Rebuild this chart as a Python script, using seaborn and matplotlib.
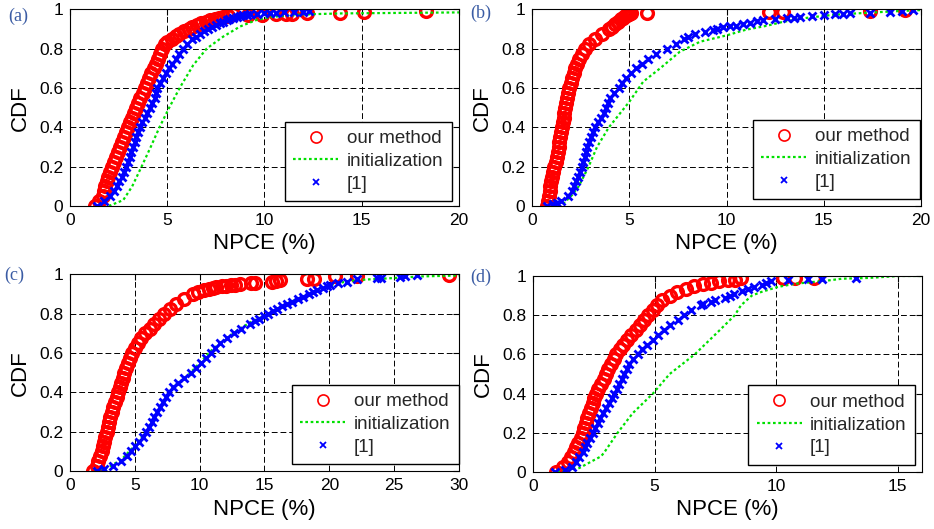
import matplotlib
matplotlib.use("Agg")
import matplotlib.pyplot as plt
import seaborn as sns

# shared CDF levels for the dense part of each marker series
cdf_grid = [0.0, 0.025, 0.05, 0.075, 0.1, 0.125, 0.15, 0.175, 0.2, 0.225,
            0.25, 0.275, 0.3, 0.325, 0.35, 0.375, 0.4, 0.425, 0.45, 0.475,
            0.5, 0.525, 0.55, 0.575, 0.6, 0.625, 0.65, 0.675, 0.7, 0.725,
            0.75, 0.775, 0.8, 0.825, 0.85, 0.875, 0.9]

series_labels = ['our method', 'initialization', '[1]']
y_ticks = [0, 0.2, 0.4, 0.6, 0.8, 1]
y_tick_labels = ['0', '0.2', '0.4', '0.6', '0.8', '1']

# ---- panel (a)
a_ours_x = [1.3, 1.5, 1.7, 1.75, 1.8, 1.9, 1.98, 2.07, 2.15, 2.25, 2.35, 2.45, 2.55,
            2.66, 2.77, 2.88, 3.0, 3.1, 3.2, 3.3, 3.4, 3.5, 3.62, 3.73, 3.85, 3.96,
            4.07, 4.18, 4.3, 4.42, 4.52, 4.62, 4.72, 4.9, 5.25, 5.6, 6.1]
a_ours_tail_x = [5.0, 5.45, 5.85, 6.3, 6.51, 6.75, 7.0, 7.2, 7.45, 7.65, 7.88, 8.1, 8.4,
                 9.17, 9.85, 10.6, 11.1, 11.4, 12.2, 13.9, 15.1, 18.3]
a_ours_tail_y = [0.835, 0.865, 0.888, 0.91, 0.921, 0.93, 0.938, 0.947, 0.953, 0.958, 0.963, 0.968, 0.975,
                 0.97, 0.972, 0.975, 0.976, 0.977, 0.98, 0.982, 0.986, 0.99]
a_ref_x = [1.4, 1.75, 2.05, 2.25, 2.4, 2.53, 2.66, 2.78, 2.9, 2.99, 3.07, 3.16, 3.25,
           3.34, 3.42, 3.51, 3.6, 3.72, 3.85, 3.97, 4.1, 4.22, 4.35, 4.42, 4.5, 4.62,
           4.76, 4.92, 5.08, 5.25, 5.43, 5.62, 5.8, 6.0, 6.3, 6.7, 7.1]
a_ref_tail_x = [6.5, 6.9, 7.3, 7.5, 7.7, 7.88, 8.05, 8.2, 8.4, 8.57, 8.75, 8.9, 9.1,
                9.25, 9.6, 10.0, 10.3, 10.6, 11.0, 11.5, 12.0, 12.3]
a_ref_tail_y = [0.862, 0.89, 0.91, 0.92, 0.93, 0.938, 0.945, 0.95, 0.957, 0.963, 0.967, 0.97, 0.973,
                0.975, 0.978, 0.98, 0.982, 0.984, 0.985, 0.986, 0.988, 0.99]
a_init_x = [2.0, 2.74, 3.2, 3.68, 4.15, 4.6, 5.1, 5.66, 6.34, 7.03, 7.88, 8.74, 9.6, 10.45, 12.0, 14.0, 20.0]
a_init_y = [0.0, 0.03, 0.1, 0.2, 0.3, 0.4, 0.5, 0.604, 0.717, 0.801, 0.862, 0.913, 0.947, 0.963, 0.975, 0.98, 0.985]

# ---- panel (b)
b_ours_x = [0.77, 0.82, 0.86, 0.9, 0.94, 1.0, 1.05, 1.1, 1.15, 1.21, 1.26, 1.32, 1.37,
            1.41, 1.46, 1.5, 1.54, 1.58, 1.63, 1.67, 1.71, 1.76, 1.82, 1.87, 1.92, 1.99,
            2.06, 2.14, 2.23, 2.33, 2.43, 2.56, 2.7, 2.95, 3.25, 3.6, 3.95]
b_ours_tail_x = [4.1, 4.25, 4.4, 4.55, 4.7, 4.8, 4.9, 5.0, 5.1, 5.9, 12.2, 12.9, 17.4, 19.2]
b_ours_tail_y = [0.913, 0.925, 0.938, 0.95, 0.958, 0.965, 0.97, 0.975, 0.98, 0.982, 0.985, 0.988, 0.992, 0.996]
b_ref_x = [0.77, 1.5, 1.85, 2.05, 2.14, 2.27, 2.38, 2.48, 2.57, 2.63, 2.7, 2.76, 2.83,
           2.93, 3.04, 3.15, 3.26, 3.4, 3.55, 3.68, 3.78, 3.9, 4.03, 4.2, 4.45, 4.65,
           4.85, 5.1, 5.35, 5.65, 5.95, 6.4, 6.95, 7.4, 7.8, 8.4, 9.5]
b_ref_tail_x = [8.0, 8.9, 9.32, 9.84, 10.2, 10.5, 10.85, 11.2, 11.55, 11.9, 12.5, 13.1, 13.45,
                13.8, 14.4, 15.0, 15.6, 16.0, 16.35, 17.4, 18.4, 19.0, 19.6, 1.1, 1.3]
b_ref_tail_y = [0.86, 0.886, 0.895, 0.912, 0.915, 0.917, 0.924, 0.93, 0.94, 0.947, 0.951, 0.955, 0.959,
                0.963, 0.967, 0.97, 0.975, 0.978, 0.98, 0.983, 0.986, 0.99, 0.995, 0.01, 0.015]
b_init_x = [1.6, 2.06, 2.4, 2.91, 3.34, 3.95, 5.0, 5.72, 6.58, 7.6, 8.64, 10.0, 11.0,
            12.07, 12.9, 14.1, 15.5, 17.2, 18.9, 20.0]
b_init_y = [0.01, 0.056, 0.1, 0.2, 0.3, 0.4, 0.53, 0.633, 0.7, 0.785, 0.836, 0.868, 0.897,
            0.917, 0.937, 0.957, 0.973, 0.983, 0.992, 0.997]

# ---- panel (c)
c_ours_x = [1.75, 2.05, 2.18, 2.32, 2.44, 2.55, 2.65, 2.74, 2.83, 2.92, 3.02, 3.11, 3.21,
            3.34, 3.47, 3.6, 3.72, 3.85, 3.95, 4.1, 4.2, 4.32, 4.45, 4.6, 4.8, 5.0,
            5.25, 5.5, 5.8, 6.15, 6.5, 6.85, 7.25, 7.7, 8.2, 8.8, 9.5]
c_ours_tail_x = [9.9, 10.3, 10.7, 11.0, 11.3, 11.7, 12.0, 12.4, 12.7, 13.1, 14.0, 14.3, 15.6,
                 15.9, 16.2, 18.3, 18.8, 20.45, 22.1, 29.2]
c_ours_tail_y = [0.91, 0.92, 0.927, 0.932, 0.937, 0.941, 0.944, 0.946, 0.947, 0.952, 0.955, 0.958, 0.963,
                 0.966, 0.97, 0.975, 0.978, 0.99, 0.99, 0.995]
c_ref_x = [2.05, 3.3, 3.9, 4.4, 4.7, 5.0, 5.3, 5.6, 5.9, 6.1, 6.3, 6.5, 6.75,
           6.95, 7.15, 7.4, 7.65, 7.95, 8.3, 8.8, 9.3, 9.7, 10.1, 10.5, 10.9, 11.2,
           11.6, 12.1, 12.65, 13.2, 13.9, 14.6, 15.3, 16.0, 16.7, 17.6, 18.4]
c_ref_tail_x = [14.25, 14.95, 15.65, 16.35, 17.15, 18.0, 18.75, 19.04, 19.5, 19.8, 20.06, 20.7,
                21.35, 22.1, 23.66, 24.0, 25.46, 25.8, 26.75, 2.6]
c_ref_tail_y = [0.762, 0.787, 0.812, 0.838, 0.862, 0.888, 0.91, 0.921, 0.93, 0.94, 0.947, 0.955,
                0.963, 0.975, 0.98, 0.982, 0.988, 0.99, 0.995, 0.01]
c_init_x = [1.9, 3.0, 4.0, 5.0, 6.0, 7.0, 8.0, 9.0, 10.0, 11.0, 12.0, 13.0, 14.0, 15.0,
            16.0, 17.0, 18.0, 19.0, 20.0, 21.0, 22.0, 23.0, 25.0, 27.0, 30.0]
c_init_y = [0.0, 0.02, 0.06, 0.13, 0.21, 0.33, 0.43, 0.48, 0.55, 0.62, 0.67, 0.72, 0.76, 0.79,
            0.82, 0.86, 0.89, 0.92, 0.945, 0.96, 0.97, 0.975, 0.982, 0.99, 0.995]

# ---- panel (d)
d_ours_x = [0.94, 1.22, 1.42, 1.56, 1.69, 1.78, 1.87, 1.96, 2.04, 2.11, 2.18, 2.24, 2.31,
            2.38, 2.45, 2.52, 2.59, 2.69, 2.79, 2.9, 3.0, 3.1, 3.2, 3.31, 3.42, 3.56,
            3.72, 3.88, 4.04, 4.22, 4.4, 4.56, 4.72, 4.92, 5.08, 5.3, 5.65]
d_ours_tail_x = [5.94, 6.3, 6.63, 7.0, 7.31, 7.65, 8.0, 8.3, 8.55, 10.3, 10.78, 11.57]
d_ours_tail_y = [0.918, 0.935, 0.949, 0.958, 0.966, 0.972, 0.977, 0.982, 0.988, 0.988, 0.989, 0.99]
d_ref_x = [0.9, 1.6, 1.76, 1.9, 2.04, 2.14, 2.24, 2.35, 2.45, 2.56, 2.66, 2.77, 2.87,
           2.99, 3.11, 3.23, 3.35, 3.45, 3.55, 3.65, 3.76, 3.85, 3.95, 4.1, 4.3, 4.5,
           4.7, 4.95, 5.15, 5.4, 5.65, 5.95, 6.2, 6.5, 6.9, 7.5, 8.1]
d_ref_tail_x = [7.0, 7.31, 7.9, 8.28, 8.6, 8.85, 9.1, 9.4, 9.6, 9.79, 10.5, 11.3, 11.9, 13.3, 1.3]
d_ref_tail_y = [0.855, 0.867, 0.89, 0.91, 0.925, 0.935, 0.944, 0.955, 0.965, 0.975, 0.978, 0.984, 0.986, 0.99, 0.01]
d_init_x = [1.0, 1.9, 2.8, 2.93, 3.48, 4.1, 4.93, 5.62, 6.65, 7.6, 8.3, 8.55, 9.0,
            9.38, 10.07, 10.76, 12.13, 12.7, 13.8, 15.05, 16.0]
d_init_y = [0.0, 0.02, 0.08, 0.1, 0.2, 0.3, 0.4, 0.5, 0.6, 0.714, 0.8, 0.85, 0.9,
            0.918, 0.944, 0.96, 0.977, 0.986, 0.99, 1.0, 1.0]

panels = [
    dict(tag='(a)', rect=[0.0749, 0.6106, 0.4165, 0.3715], xlim=20, xticks=[0, 5, 10, 15, 20],
         ours=(a_ours_x + a_ours_tail_x, cdf_grid + a_ours_tail_y),
         init=(a_init_x, a_init_y),
         ref=(a_ref_x + a_ref_tail_x, cdf_grid + a_ref_tail_y),
         leg=(0.982, 0.025), tagpos=(0.009, 0.970)),
    dict(tag='(b)', rect=[0.5696, 0.6106, 0.4165, 0.3715], xlim=20, xticks=[0, 5, 10, 15, 20],
         ours=(b_ours_x + b_ours_tail_x, cdf_grid + b_ours_tail_y),
         init=(b_init_x, b_init_y),
         ref=(b_ref_x + b_ref_tail_x, cdf_grid + b_ref_tail_y),
         leg=(0.997, 0.035), tagpos=(0.503, 0.975)),
    dict(tag='(c)', rect=[0.0749, 0.1096, 0.4165, 0.3715], xlim=30, xticks=[0, 5, 10, 15, 20, 25, 30],
         ours=(c_ours_x + c_ours_tail_x, cdf_grid + c_ours_tail_y),
         init=(c_init_x, c_init_y),
         ref=(c_ref_x + c_ref_tail_x, cdf_grid + c_ref_tail_y),
         leg=(1.0, 0.035), tagpos=(0.005, 0.480)),
    dict(tag='(d)', rect=[0.5707, 0.1078, 0.4165, 0.3705], xlim=16, xticks=[0, 5, 10, 15],
         ours=(d_ours_x + d_ours_tail_x, cdf_grid + d_ours_tail_y),
         init=(d_init_x, d_init_y),
         ref=(d_ref_x + d_ref_tail_x, cdf_grid + d_ref_tail_y),
         leg=(0.982, 0.037), tagpos=(0.503, 0.476)),
]

sns.set_theme(style="white")
plt.rcParams['font.family'] = ['Liberation Sans', 'DejaVu Sans']
plt.rcParams['axes.edgecolor'] = 'black'
plt.rcParams['axes.linewidth'] = 0.8

fig = plt.figure(figsize=(9.34, 5.29), dpi=100)

for p in panels:
    ax = fig.add_axes(p['rect'])

    sns.lineplot(x=p['ours'][0], y=p['ours'][1], ax=ax, estimator=None, sort=False,
                 color='red', marker='o', markersize=8.5, markerfacecolor='none',
                 markeredgecolor='red', markeredgewidth=2.4, linestyle='none', legend=False)
    sns.lineplot(x=p['init'][0], y=p['init'][1], ax=ax, estimator=None, sort=False,
                 color='#00e000', linestyle=(0, (1.2, 1.2)), linewidth=1.6, legend=False)
    sns.lineplot(x=p['ref'][0], y=p['ref'][1], ax=ax, estimator=None, sort=False,
                 color='blue', marker='x', markersize=6, markeredgecolor='blue',
                 markeredgewidth=2.0, linestyle='none', legend=False)

    ax.set_xlim(0, p['xlim'])
    ax.set_ylim(0, 1)
    ax.set_xticks(p['xticks'])
    ax.set_xticklabels([str(t) for t in p['xticks']])
    ax.set_yticks(y_ticks)
    ax.set_yticklabels(y_tick_labels)
    ax.grid(True, color='black', linestyle=(0, (6, 3)), linewidth=0.7)
    ax.tick_params(direction='in', top=True, right=True, length=4, width=0.8,
                   labelsize=12.5, pad=5, colors='black')
    ax.set_xlabel('NPCE (%)', fontsize=16, labelpad=4, color='black')
    ax.set_ylabel('CDF', fontsize=16, labelpad=6, color='black')

    leg = ax.legend(handles=ax.lines[:3], labels=series_labels, loc='lower right',
                    bbox_to_anchor=p['leg'], borderaxespad=0, fontsize=13.5,
                    frameon=True, fancybox=False, edgecolor='black',
                    handlelength=2.4, handletextpad=0.45, labelspacing=0.3,
                    borderpad=0.45)
    leg.get_frame().set_linewidth(1.0)
    leg.get_frame().set_alpha(1)
    for h in leg.legend_handles:
        if h.get_marker() == 'o':
            h.set_markersize(8)
            h.set_markeredgewidth(1.2)
        elif h.get_marker() == 'x':
            h.set_markersize(4.5)
            h.set_markeredgewidth(1.3)

    fig.text(p['tagpos'][0], p['tagpos'][1], p['tag'], fontsize=13, color='#3b5ca4',
             family=['Liberation Serif', 'DejaVu Serif'], va='center', ha='left')

fig.savefig('out.png', dpi=100)
